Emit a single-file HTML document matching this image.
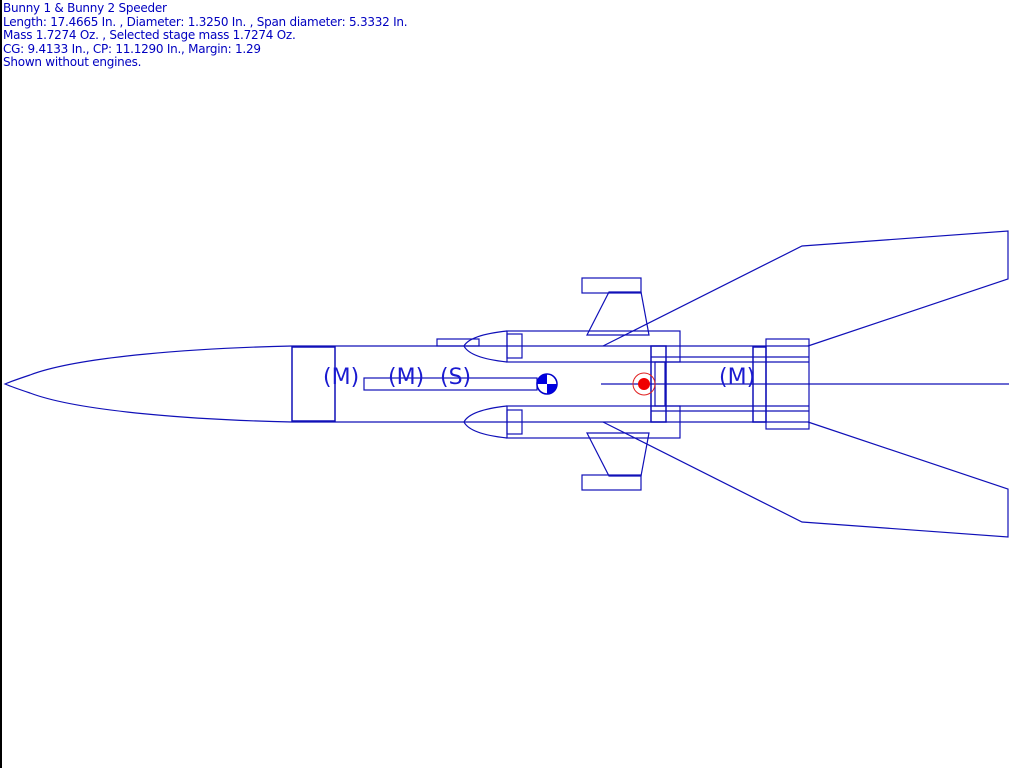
<!DOCTYPE html>
<html><head><style>
html,body{margin:0;padding:0;background:#fff;width:1024px;height:768px;overflow:hidden}
.t{position:absolute;left:3px;font:12px "DejaVu Sans","Liberation Sans",sans-serif;color:#0000c0;line-height:13.5px;white-space:pre;letter-spacing:-0.25px}
</style></head><body>
<div style="position:absolute;left:0;top:0;width:2px;height:768px;background:#000"></div>
<div class="t" style="top:2px">Bunny 1 &amp; Bunny 2 Speeder
Length: 17.4665 In. , Diameter: 1.3250 In. , Span diameter: 5.3332 In.
Mass 1.7274 Oz. , Selected stage mass 1.7274 Oz.
CG: 9.4133 In., CP: 11.1290 In., Margin: 1.29
Shown without engines.</div>
<svg width="1024" height="768" style="position:absolute;left:0;top:0" fill="none" stroke="#1010b8" stroke-width="1.2">
<!-- nose -->
<path d="M292,346 C200,348 80,356 30,375 Q12,381 5,384 Q12,387 30,393 C80,412 200,420 292,422"/>
<!-- body -->
<line x1="292" y1="346" x2="809" y2="346"/>
<line x1="292" y1="422" x2="809" y2="422"/>
<rect x="292" y="347" width="43" height="74" stroke-width="1.5"/>
<rect x="364" y="378" width="173" height="12"/>
<rect x="437" y="339" width="42" height="7"/>
<!-- pods -->
<path d="M507,331 Q470,335 464,346 Q470,358 507,362"/>
<rect x="507" y="331" width="173" height="31"/>
<rect x="507" y="334" width="15" height="24"/>
<path d="M507,406 Q470,410 464,422 Q470,434 507,438"/>
<rect x="507" y="406" width="173" height="32"/>
<rect x="507" y="410" width="15" height="24"/>
<!-- pod fins -->
<rect x="582" y="278" width="59" height="15"/>
<path d="M609,292 L641,292 L649,335 L587,335 Z"/>
<rect x="582" y="475" width="59" height="15"/>
<path d="M609,476 L641,476 L649,433 L587,433 Z"/>
<!-- main fins -->
<path d="M603,346 L802,246 L1008,231 L1008,279 L808,346"/>
<path d="M603,422 L802,522 L1008,537 L1008,489 L808,422"/>
<!-- ring -->
<rect x="651" y="346" width="15" height="76" stroke-width="1.5"/>
<rect x="655" y="362" width="10" height="44"/>
<line x1="651" y1="357" x2="809" y2="357"/>
<line x1="651" y1="362" x2="809" y2="362"/>
<line x1="651" y1="406" x2="809" y2="406"/>
<line x1="651" y1="411" x2="809" y2="411"/>
<rect x="753" y="347" width="13" height="75" stroke-width="1.5"/>
<rect x="766" y="339" width="43" height="90"/>
<line x1="601" y1="384" x2="1009" y2="384"/>
<!-- CG -->
<circle cx="547" cy="384" r="10" fill="#fff" stroke="#0000c8" stroke-width="1.5"/>
<path d="M547,384 L547,374 A10,10 0 0 0 537,384 Z" fill="#0000e0" stroke="none"/>
<path d="M547,384 L547,394 A10,10 0 0 0 557,384 Z" fill="#0000e0" stroke="none"/>
<!-- CP -->
<circle cx="644" cy="384" r="11" stroke="#e02020" stroke-width="1"/>
<circle cx="644" cy="384" r="6" fill="#f00000" stroke="none"/>
<g fill="#1a1ad0" stroke="none" font-family="DejaVu Sans, Liberation Sans, sans-serif" font-size="22">
<text x="323" y="384">(M)</text>
<text x="388" y="384">(M)</text>
<text x="440" y="384">(S)</text>
<text x="719" y="384">(M)</text>
</g>
</svg>
</body></html>
